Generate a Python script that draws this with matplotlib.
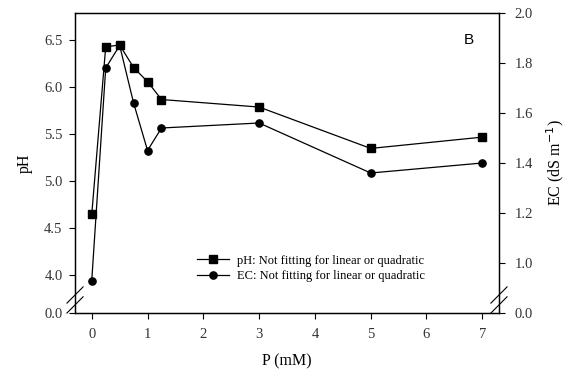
"""
pH and EC response to P concentration, with broken y axes
"""
import matplotlib
matplotlib.use("Agg")
import matplotlib.pyplot as plt
from matplotlib.lines import Line2D

# P concentration (mM)
p_conc = [0, 0.25, 0.5, 0.75, 1.0, 1.25, 3, 5, 7]
ph_values = [4.65, 6.43, 6.45, 6.21, 6.06, 5.87, 5.79, 5.35, 5.47]
ec_values = [0.93, 1.78, 1.87, 1.64, 1.45, 1.54, 1.56, 1.36, 1.40]

ph_ticks = [3.6, 4.0, 4.5, 5.0, 5.5, 6.0, 6.5]
ph_tick_labels = ['0.0', '4.0', '4.5', '5.0', '5.5', '6.0', '6.5']
ec_ticks = [0.8, 1.0, 1.2, 1.4, 1.6, 1.8, 2.0]
ec_tick_labels = ['0.0', '1.0', '1.2', '1.4', '1.6', '1.8', '2.0']
x_ticks = [0, 1, 2, 3, 4, 5, 6, 7]

plt.rcParams['font.family'] = ['Liberation Serif', 'DejaVu Serif']

fig = plt.figure(figsize=(5.78, 3.80), dpi=100)
ax = fig.add_axes([0.1298, 0.1763, 0.7335, 0.7895])
ax2 = ax.twinx()

line_ph, = ax.plot(p_conc, ph_values, color='black', lw=0.9, marker='s',
                   markersize=5.8, label='pH: Not fitting for linear or quadratic')
line_ec, = ax2.plot(p_conc, ec_values, color='black', lw=0.9, marker='o',
                    markersize=5.2, label='EC: Not fitting for linear or quadratic')

ax.set_xlim(-0.3, 7.3)
ax.set_ylim(3.6, 6.79)
ax2.set_ylim(0.8, 2.0)

ax.set_xticks(x_ticks)
ax.set_yticks(ph_ticks)
ax.set_yticklabels(ph_tick_labels)
ax2.set_yticks(ec_ticks)
ax2.set_yticklabels(ec_tick_labels)

for a in (ax, ax2):
    a.tick_params(direction='out', length=4, width=0.8, labelsize=10.5,
                  colors='black', labelcolor='#333333')
    for s in a.spines.values():
        s.set_linewidth(0.9)
ax.tick_params(axis='x', pad=7)
ax.tick_params(axis='y', pad=5)
ax2.tick_params(axis='y', pad=7)

ax.set_xlabel('P (mM)', fontsize=11.5, labelpad=9)
ax.set_ylabel('pH', fontsize=11.5, labelpad=8)
ax2.set_ylabel('EC (dS m$^{-1}$)', fontsize=11.5, labelpad=8)

ax.text(0.93, 0.91, 'B', transform=ax.transAxes, fontsize=11,
        family='Liberation Sans', ha='center', va='center')

# axis break marks
for x0 in (-0.019, 0.981):
    for y0 in (0.0, 0.033):
        ax.add_line(Line2D([x0, x0 + 0.038], [y0, y0 + 0.054], color='black',
                           lw=0.8, transform=ax.transAxes, clip_on=False))

ax.legend([line_ph, line_ec], [line_ph.get_label(), line_ec.get_label()],
          loc='lower left', bbox_to_anchor=(0.26, 0.065), frameon=False,
          fontsize=9, handlelength=2.6, labelspacing=0.3, handletextpad=0.6)

fig.savefig('out.png', dpi=100)
